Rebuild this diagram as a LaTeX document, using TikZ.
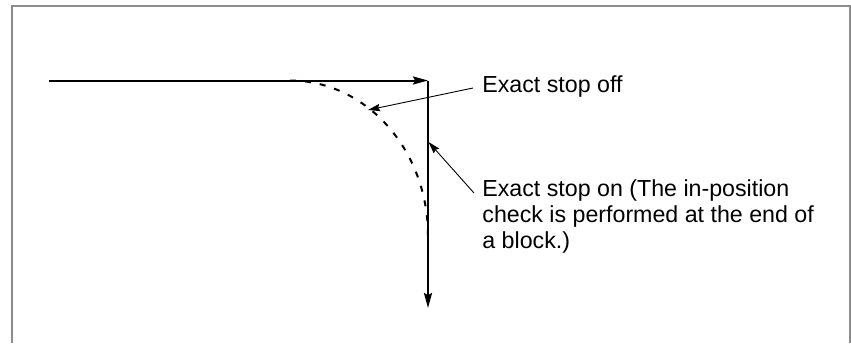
\documentclass[tikz,border=0pt]{standalone}
\usepackage{fontspec}
\setmainfont{Liberation Sans}
\usetikzlibrary{arrows.meta}

\begin{document}
\begin{tikzpicture}[x=0.5pt, y=-0.5pt,
  percorso/.style={line width=1pt, -{Stealth[length=7.5pt, width=4pt, inset=1pt]}},
  raccordo/.style={line width=1pt, dash pattern=on 3pt off 4.5pt},
  richiamo/.style={line width=0.45pt, -{Stealth[length=6pt, width=3.6pt, inset=0.8pt]}},
  testo/.style={anchor=base west, inner sep=0pt, align=left, font=\fontsize{11.6}{12.8}\selectfont}]

% Colori
\definecolor{grigioCornice}{HTML}{8C8C8C}

% Raggi del raccordo (in pixel)
\def\rx{138}
\def\ry{155}

% Area e cornice
\useasboundingbox (0,0) rectangle (851,343);
\draw[grigioCornice, line width=1pt] (12,343) -- (12,5.5) -- (850,5.5) -- (850,343);

% Punti del percorso
\coordinate (inizio) at (49,80.5);
\coordinate (angolo) at (428,80.5);
\coordinate (fine) at (428,308);
\coordinate (offpunta) at (368,110);
\coordinate (onpunta) at (428.5,142);

% Percorso con arresto esatto
\draw[percorso] (inizio) -- (angolo);
\draw[percorso] (angolo) -- (fine);

% Raccordo senza arresto esatto
\draw[raccordo] (290,80.5) arc[start angle=-90, end angle=0, x radius=\rx, y radius=\ry];

% Etichette (base = ultima riga)
\node[testo] (offtxt) at (482,92) {Exact stop off};
\node[testo] (ontxt) at (482,248) {Exact stop on (The in-position\\check is performed at the end of\\a block.)};

% Linee di richiamo
\draw[richiamo] ([shift={(-4.5pt,2pt)}]offtxt.base west) -- (offpunta);
\draw[richiamo] ([shift={(-4pt,27.5pt)}]ontxt.base west) -- (onpunta);

\end{tikzpicture}
\end{document}
